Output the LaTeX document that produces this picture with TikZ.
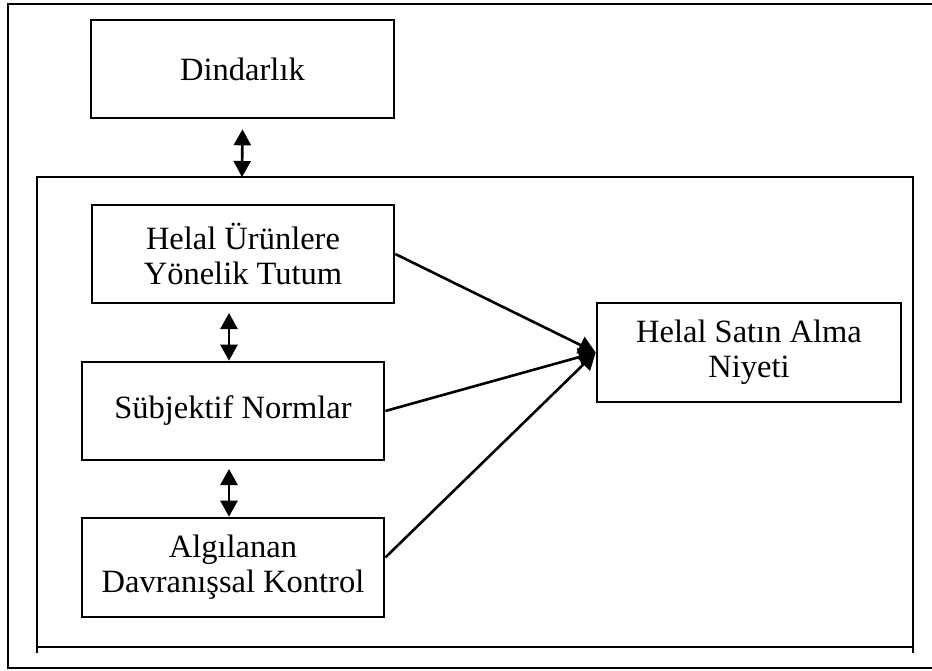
\documentclass[tikz,border=0pt]{standalone}
\usepackage{fontspec}
\setmainfont{Liberation Serif}
\usetikzlibrary{arrows.meta}
\tikzset{
  box/.style={draw=black, line width=2.6pt, inner sep=0pt, align=center,
    font=\fontsize{32.5}{35}\selectfont},
  frame/.style={draw=black, line width=2.6pt},
  conn/.style={draw=black, line width=2.6pt, -{Triangle[length=17pt,width=18pt]}},
  dconn/.style={draw=black, line width=2.6pt, {Triangle[length=16pt,width=17pt]}-{Triangle[length=16pt,width=17pt]}}
}
\begin{document}
\begin{tikzpicture}[x=1pt,y=-1pt]
\useasboundingbox (0,0) rectangle (932,670);
% outer frame
\draw[draw=black, line width=1.8pt] (932,4) -- (8,4) -- (8,668) -- (932,668);
% inner frame
\draw[frame] (37,653) -- (37,177) -- (913,177) -- (913,653);
\draw[frame] (37,647) -- (913,647);
\coordinate (innertop) at (242,177);
% boxes
\node[box, minimum width=303pt, minimum height=98pt] (dind) at (242.5,69) {Dindarlık};
\node[box, minimum width=302pt, minimum height=98pt] (tut) at (243,254) {Helal Ürünlere\\Yönelik Tutum};
\node[box, minimum width=302pt, minimum height=98pt] (sub) at (233,411) {Sübjektif Normlar};
\node[box, minimum width=302pt, minimum height=99pt] (alg) at (233,567.5) {Algılanan\\Davranışsal Kontrol};
\node[box, minimum width=304pt, minimum height=99pt] (niy) at (749,352.5) {Helal Satın Alma\\Niyeti};
% double arrows
\draw[dconn] ([yshift=-10pt]dind.south) -- (innertop);
\coordinate (a2) at (229,313);
\draw[dconn] (a2) -- (a2 |- sub.north);
\coordinate (a3) at (229,469);
\draw[dconn] (a3) -- (a3 |- alg.north);
% converging arrows
\draw[conn] (tut.east) -- (niy.west);
\draw[conn] (sub.east) -- (niy.west);
\draw[conn] ([yshift=10pt]alg.east) -- (niy.west);
\end{tikzpicture}
\end{document}
